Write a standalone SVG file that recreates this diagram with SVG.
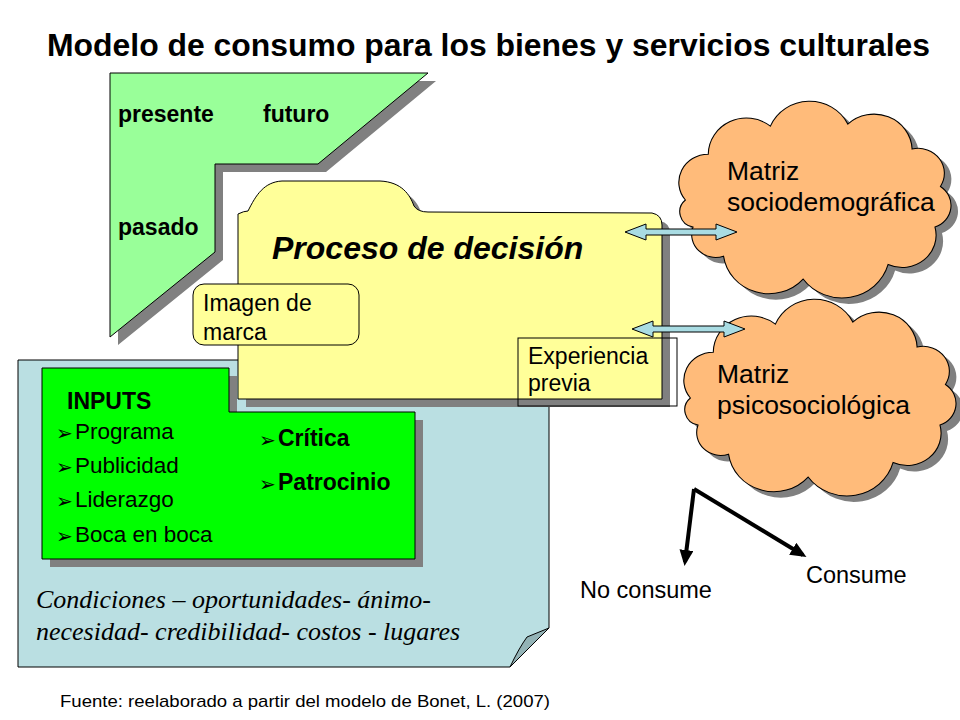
<svg xmlns="http://www.w3.org/2000/svg" width="960" height="720" viewBox="0 0 960 720">
<defs>
<style>
.sans{font-family:"Liberation Sans",Arial,sans-serif;fill:#000}
.b{font-weight:bold}
.edge{stroke:#000;stroke-width:1}
.shadow{fill:#808080;stroke:none}
.bul{font-family:"DejaVu Sans",sans-serif;font-size:20px;fill:#000}
.dbl{fill:#A9DCE3;stroke:#000;stroke-width:1}
</style>
<path id="cloudShape" d="M-118,0 A27,27 0 0 1 -97,-44 A35,35 0 0 1 -40,-71 A39,39 0 0 1 31,-73 A35,35 0 0 1 90,-49 A24,24 0 0 1 116,-13 A22,22 0 0 1 111,26 A31,31 0 0 1 68,62 A44,44 0 0 1 -10,76 A42,42 0 0 1 -83,54 A22,22 0 0 1 -111,26 A15,15 0 0 1 -118,0 Z"/>
<marker id="blk" markerWidth="16" markerHeight="14" refX="12" refY="7" orient="auto" markerUnits="userSpaceOnUse" viewBox="0 0 16 14">
<path d="M0,0 L16,7 L0,14 Z" fill="#000"/>
</marker>
</defs>
<rect width="960" height="720" fill="#fff"/>

<text class="sans b" x="47" y="56" font-size="31" textLength="883" lengthAdjust="spacingAndGlyphs">Modelo de consumo para los bienes y servicios culturales</text>

<g id="condiciones">
<path d="M18,360 L549,360 L549,628 L510,667 L18,667 Z" fill="#BADFE2" class="edge"/>
<path d="M510,667 L549,628 L527,637 Q519,648 510,667 Z" fill="#93B3B6" class="edge"/>
<text x="36" y="608" font-family="'Liberation Serif',serif" font-style="italic" font-size="26" fill="#000">Condiciones – oportunidades- ánimo-</text>
<text x="36" y="640" font-family="'Liberation Serif',serif" font-style="italic" font-size="26" fill="#000">necesidad- credibilidad- costos - lugares</text>
</g>

<g id="tiempo">
<path d="M118,81 L436,81 L326,172 L223,172 L223,260 L118,345 Z" class="shadow"/>
<path d="M110,73 L428,73 L318,164 L215,164 L215,252 L110,337 Z" fill="#99FF99" class="edge"/>
<text class="sans b" x="118" y="122" font-size="23">presente</text>
<text class="sans b" x="263" y="122" font-size="23">futuro</text>
<text class="sans b" x="118" y="235" font-size="23">pasado</text>
</g>

<g id="proceso">
<path transform="translate(8,8)" class="shadow" d="M238,399 L238,214 Q244,211 248,211 C256,195 264,182 282,181 L380,181 C402,182 410,195 414,206 Q418,212 428,212 L652,213 Q662,215 662,225 L662,399 Z"/>
<path fill="#FFFF99" class="edge" d="M238,399 L238,214 Q244,211 248,211 C256,195 264,182 282,181 L380,181 C402,182 410,195 414,206 Q418,212 428,212 L652,213 Q662,215 662,225 L662,399 Z"/>
<text class="sans b" x="272" y="259" font-size="32" font-style="italic">Proceso de decisión</text>
</g>

<g id="imagen">
<rect x="193" y="284" width="166" height="61" rx="11" fill="#FFFF99" class="edge"/>
<text class="sans" x="203" y="311" font-size="23">Imagen de</text>
<text class="sans" x="203" y="340" font-size="23">marca</text>
</g>

<g id="inputs">
<path transform="translate(8,8)" class="shadow" d="M42,368 L229,368 L229,412 L415,412 L415,559 L42,559 Z"/>
<path fill="#00FF00" class="edge" d="M42,368 L229,368 L229,412 L415,412 L415,559 L42,559 Z"/>
<text class="sans b" x="67" y="409" font-size="23">INPUTS</text>
<text class="bul" x="56" y="440">➢</text>
<text class="sans" x="75" y="439" font-size="22.5">Programa</text>
<text class="bul" x="56" y="474">➢</text>
<text class="sans" x="75" y="473" font-size="22.5">Publicidad</text>
<text class="bul" x="56" y="508">➢</text>
<text class="sans" x="75" y="507" font-size="22.5">Liderazgo</text>
<text class="bul" x="56" y="543">➢</text>
<text class="sans" x="75" y="542" font-size="22.5">Boca en boca</text>
<text class="bul" x="259" y="447">➢</text>
<text class="sans b" x="278" y="446" font-size="23">Crítica</text>
<text class="bul" x="259" y="491">➢</text>
<text class="sans b" x="278" y="490" font-size="23">Patrocinio</text>
</g>

<g id="experiencia">
<rect x="518" y="338" width="159" height="68" fill="none" class="edge"/>
<text class="sans" x="528" y="364" font-size="23">Experiencia</text>
<text class="sans" x="528" y="391" font-size="23">previa</text>
</g>

<g id="matriz-socio">
<use href="#cloudShape" transform="translate(821,206) scale(1.09,1.04)" class="shadow"/>
<use href="#cloudShape" transform="translate(814,200) scale(1.09,1.04)" fill="#FFBB7A" stroke="#000" stroke-width="1"/>
<text class="sans" x="727" y="180" font-size="26.5">Matriz</text>
<text class="sans" x="727" y="211" font-size="26.5">sociodemográfica</text>
</g>

<g id="matriz-psico">
<use href="#cloudShape" transform="translate(826,404) scale(1.09,1.04)" class="shadow"/>
<use href="#cloudShape" transform="translate(819,398) scale(1.09,1.04)" fill="#FFBB7A" stroke="#000" stroke-width="1"/>
<text class="sans" x="717" y="383" font-size="26.5">Matriz</text>
<text class="sans" x="717" y="414" font-size="26.5">psicosociológica</text>
</g>

<g id="connectors">
<path class="dbl" d="M625,232 L646,224 L646,229 L716,229 L716,224 L737,232 L716,240 L716,235 L646,235 L646,240 Z"/>
<path class="dbl" d="M632,329 L653,321 L653,326 L724,326 L724,321 L745,329 L724,337 L724,332 L653,332 L653,337 Z"/>
<line x1="694" y1="489" x2="685" y2="562" stroke="#000" stroke-width="4" marker-end="url(#blk)"/>
<line x1="694" y1="489" x2="803" y2="555" stroke="#000" stroke-width="4" marker-end="url(#blk)"/>
</g>

<text class="sans" x="580" y="598" font-size="23.5">No consume</text>
<text class="sans" x="806" y="583" font-size="23.5">Consume</text>
<text class="sans" x="60" y="707" font-size="17" textLength="490" lengthAdjust="spacingAndGlyphs">Fuente: reelaborado a partir del modelo de Bonet, L. (2007)</text>
</svg>
